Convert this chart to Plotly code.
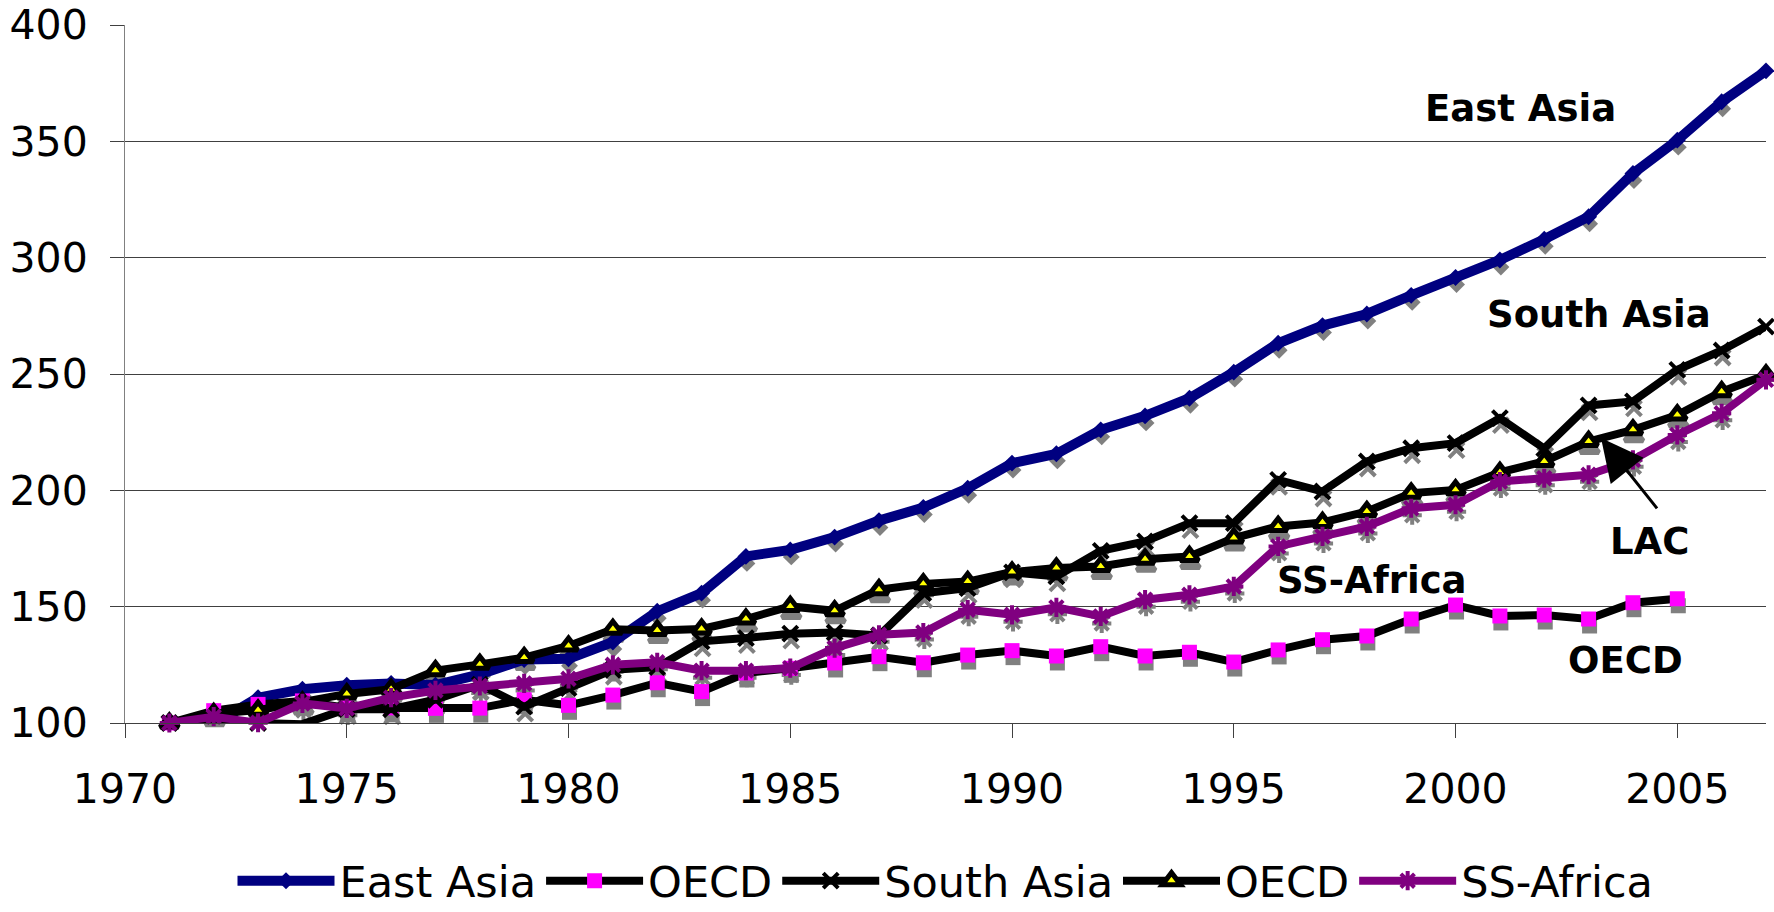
import plotly.graph_objects as go

years = list(range(1971, 2008))
years_oecd = list(range(1971, 2006))

east_asia = [100, 99.5, 110.9, 114.5, 116.2, 117, 116.3, 120.9, 127.3, 127.6,
             134.8, 148, 155.8, 171.6, 174.4, 179.9, 187, 192.6, 200.9, 211.7,
             215.7, 226, 232, 239.6, 250.8, 263.2, 270.8, 275.8, 283.8, 291.5,
             299, 307.9, 317.6, 336.2, 350.5, 367, 380.3]
oecd = [100, 105.3, 108, 109.5, 106.5, 106.5, 106.3, 106.4, 110, 107.6,
        112, 117.3, 113.5, 121.5, 123.5, 125.8, 128.5, 125.9, 129.2, 131.1,
        128.8, 132.8, 128.8, 130.4, 126.2, 131.4, 135.8, 137.4, 144.7, 150.7,
        146, 146.4, 144.7, 151.7, 153.4]
south_asia = [100, 99.5, 100, 99.5, 106, 105.9, 110, 116.5, 107, 115,
              122.9, 124, 135.1, 136.5, 138.4, 138.9, 137.6, 155.8, 158, 164.7,
              163, 174, 178, 185.9, 185.9, 204.5, 199.5, 212.4, 218.1, 220.3,
              231, 218, 236.5, 238.2, 251.8, 260.1, 270.4]
lac = [100, 104, 105.5, 109, 112.5, 114.5, 122.5, 125.2, 128.1, 133.1,
       140.3, 139.8, 140.4, 144.7, 150.1, 148.2, 157.3, 159.8, 160.8, 164.9,
       166.6, 167.3, 170.4, 171.6, 179.5, 184.5, 186.2, 190.9, 198.8, 200.2,
       207.7, 212.4, 221, 226, 232.4, 242.4, 249.6]
ss_africa = [100, 102.7, 100.1, 108.4, 106.3, 110.9, 114, 115.9, 117, 119,
             125, 126.1, 122.5, 122.5, 123.6, 132.2, 137.9, 138.9, 148.7, 146.5,
             149.7, 145.8, 153, 155.1, 158.7, 175.9, 180.2, 184.5, 192.3, 193.8,
             203.8, 205.2, 206.7, 213.1, 223.8, 233.1, 247.5]

x_ticks = [1970, 1975, 1980, 1985, 1990, 1995, 2000, 2005]
y_ticks = [100, 150, 200, 250, 300, 350, 400]

FONT = "DejaVu Sans"
GRAY = "#808080"

series = [
    dict(name="East Asia", x=years, y=east_asia, line=dict(color="#000080", width=10),
         marker=dict(symbol="diamond", size=13, color="#000080"),
         shadow=dict(symbol="diamond", size=13, color=GRAY)),
    dict(name="OECD", x=years_oecd, y=oecd, line=dict(color="black", width=8),
         marker=dict(symbol="square", size=15, color="#FF00FF"),
         shadow=dict(symbol="square", size=15, color=GRAY)),
    dict(name="South Asia", x=years, y=south_asia, line=dict(color="black", width=8),
         marker=dict(symbol="x-thin-open", size=15, color="black", line=dict(color="black", width=4)),
         shadow=dict(symbol="x-thin-open", size=15, color=GRAY, line=dict(color=GRAY, width=4))),
    dict(name="OECD", x=years, y=lac, line=dict(color="black", width=8),
         marker=dict(symbol="triangle-up", size=16, color="#FFFF00", line=dict(color="black", width=5)),
         shadow=dict(symbol="triangle-up", size=16, color=GRAY, line=dict(color=GRAY, width=5))),
    dict(name="SS-Africa", x=years, y=ss_africa, line=dict(color="#800080", width=8),
         marker=dict(symbol="asterisk-open", size=16, color="#800080", line=dict(color="#800080", width=4)),
         shadow=dict(symbol="asterisk-open", size=16, color=GRAY, line=dict(color=GRAY, width=4))),
]

fig = go.Figure()

# shadows (drawn on an offset overlay axis pair)
for s in series:
    fig.add_trace(go.Scatter(x=s["x"], y=s["y"], mode="markers", marker=s["shadow"],
                             xaxis="x2", yaxis="y2", showlegend=False, hoverinfo="skip",
                             cliponaxis=False))
# main series
for s in series:
    fig.add_trace(go.Scatter(x=s["x"], y=s["y"], name=s["name"], mode="lines+markers",
                             line=s["line"], marker=s["marker"], xaxis="x3", yaxis="y3",
                             cliponaxis=False))

PLOT_W = 1774 - 125 - 8
PLOT_H = 912 - 25 - 189
XR = [1970, 2007]
YR = [100, 400]
dx_px, dy_px = 1.0, 7.0
dxu = dx_px * (XR[1] - XR[0]) / PLOT_W
dyu = dy_px * (YR[1] - YR[0]) / PLOT_H

labels = [
    ("East Asia", 2001.47, 364.3),
    ("South Asia", 2003.23, 275.4),
    ("LAC", 2004.37, 177.9),
    ("SS-Africa", 1998.12, 161.1),
    ("OECD", 2003.83, 126.7),
]
annotations = [dict(text="<b>%s</b>" % t, x=x, y=y, xref="x", yref="y", showarrow=False,
                    font=dict(family=FONT, size=37, color="black"))
               for t, x, y in labels]
annotations.append(dict(x=2003.28, y=222.5, ax=2004.57, ay=191.6, xref="x", yref="y",
                        axref="x", ayref="y", text="", showarrow=True, arrowhead=2,
                        arrowsize=2.8, arrowwidth=3, arrowcolor="black"))

fig.update_layout(
    width=1774, height=912,
    margin=dict(l=125, r=8, t=25, b=189, autoexpand=False),
    paper_bgcolor="white", plot_bgcolor="white",
    font=dict(family=FONT, size=41, color="black"),
    xaxis=dict(range=XR, tickvals=x_ticks, ticks="outside", ticklen=14, tickcolor="#404040",
               showline=True, linecolor="#404040", linewidth=1, showgrid=False, zeroline=False,
               automargin=False,
               tickfont=dict(family=FONT, size=41, color="black"), ticklabelstandoff=16),
    yaxis=dict(range=YR, tickvals=y_ticks, ticks="outside", ticklen=14, tickcolor="#404040",
               showline=True, linecolor="#808080", linewidth=1, showgrid=True,
               gridcolor="#404040", gridwidth=1, zeroline=False, automargin=False,
               tickfont=dict(family=FONT, size=41, color="black"), ticklabelstandoff=14),
    xaxis2=dict(range=[XR[0] - dxu, XR[1] - dxu], overlaying="x", anchor="y2", visible=False),
    yaxis2=dict(range=[YR[0] + dyu, YR[1] + dyu], overlaying="y", anchor="x2", visible=False),
    xaxis3=dict(range=XR, overlaying="x", anchor="y3", visible=False),
    yaxis3=dict(range=YR, overlaying="y", anchor="x3", visible=False),
    legend=dict(orientation="h", x=0.5, xanchor="center", y=-0.226, yanchor="middle",
                font=dict(family=FONT, size=43, color="black"), itemwidth=97,
                bgcolor="rgba(0,0,0,0)"),
    annotations=annotations,
    showlegend=True,
)

fig.write_html("out.html", config={"displayModeBar": False},
               post_script="document.body.style.margin='0';document.body.style.overflow='hidden';")
